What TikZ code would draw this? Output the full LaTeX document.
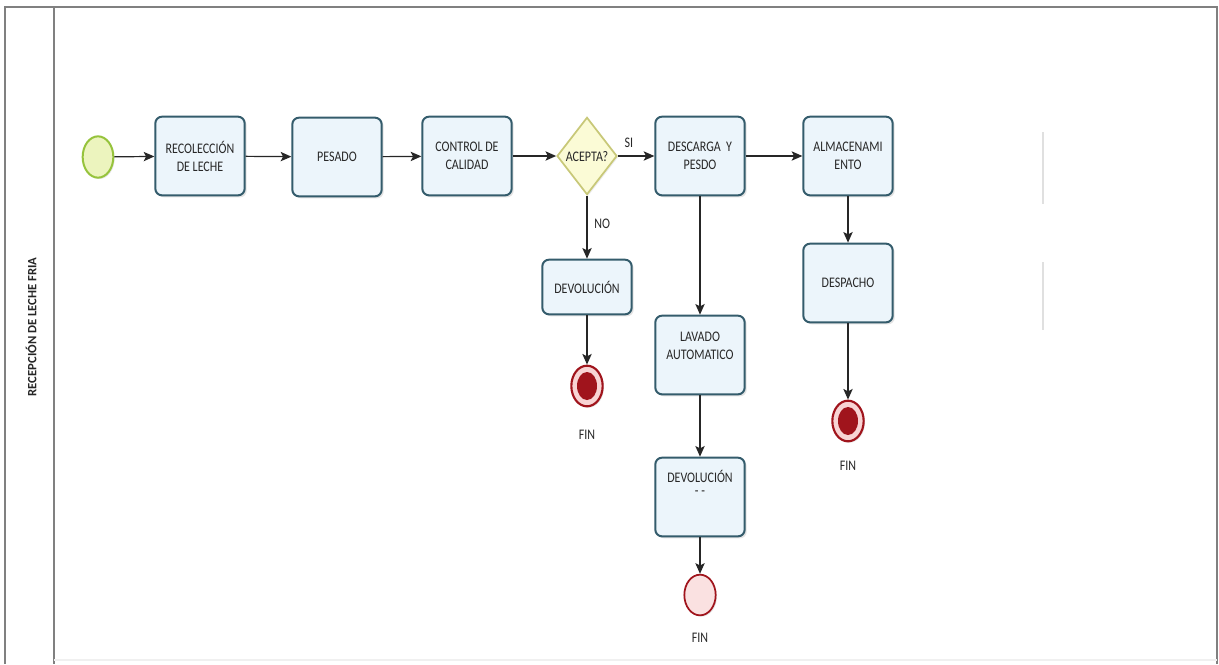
\documentclass[tikz,border=0pt]{standalone}
\usepackage{fontspec}
\setmainfont{Carlito}
\usetikzlibrary{shapes.geometric,arrows.meta,shadows}
\definecolor{boxborder}{RGB}{52,92,108}
\definecolor{boxfill}{RGB}{236,245,251}
\definecolor{txt}{RGB}{40,40,40}
\definecolor{dfill}{RGB}{251,251,214}
\definecolor{dborder}{RGB}{200,200,120}
\definecolor{sfill}{RGB}{236,244,190}
\definecolor{sborder}{RGB}{150,195,60}
\definecolor{ered}{RGB}{160,20,28}
\definecolor{epink}{RGB}{248,212,212}
\definecolor{framec}{RGB}{128,128,128}
\newcommand{\st}[1]{\scalebox{1}[1.22]{#1}}
\tikzset{
  task/.style={draw=boxborder, line width=1.5pt, fill=boxfill, rounded corners=5pt,
    minimum width=67pt, minimum height=59pt, inner sep=1pt, align=center,
    font=\fontsize{9}{13.5}\selectfont, text=txt,
    drop shadow={opacity=0.22, shadow xshift=1.5pt, shadow yshift=-1.5pt}},
  tasktext/.style={align=center, font=\fontsize{9}{13.5}\selectfont, text=txt, inner sep=0pt},
  gate/.style={diamond, draw=dborder, line width=1.3pt, fill=dfill, minimum width=45pt,
    minimum height=58pt, inner sep=0pt, drop shadow={opacity=0.15, shadow xshift=1pt, shadow yshift=-1pt}},
  startev/.style={ellipse, draw=sborder, line width=1.5pt, fill=sfill, minimum width=23pt,
    minimum height=31pt, inner sep=0pt, drop shadow={opacity=0.2, shadow xshift=1pt, shadow yshift=-1pt}},
  endev/.style={ellipse, draw=ered, line width=1.6pt, fill=epink, minimum width=23.5pt,
    minimum height=30.5pt, inner sep=0pt, drop shadow={opacity=0.2, shadow xshift=1pt, shadow yshift=-1pt}},
  endcore/.style={ellipse, fill=ered, minimum width=15pt, minimum height=21pt, inner sep=0pt},
  lbl/.style={font=\fontsize{9}{11}\selectfont, text=txt, inner sep=0pt},
  flow/.style={draw=black!85, line width=0.9pt, -{Stealth[length=8pt,width=7pt,inset=1.8pt]}}
}
\begin{document}
\begin{tikzpicture}[x=0.75pt,y=-0.75pt]
\useasboundingbox (0,0) rectangle (1219,664);
\fill[white] (0,0) rectangle (1219,664);
% frame
\draw[framec, line width=1.5pt] (5,664) -- (5,7) -- (1217,7) -- (1217,664);
\draw[framec, line width=1.5pt] (54,7) -- (54,664);
\draw[black!6, line width=1pt] (54,660) -- (1217,660);
\node[rotate=90, font=\bfseries\fontsize{9.5}{11}\selectfont, text=black!85] (lane) at (31,327) {RECEPCIÓN DE LECHE FRIA};
% faint marks
\draw[black!12, line width=1.8pt] (1043,132) -- (1043,204);
\draw[black!12, line width=1.8pt] (1043,262) -- (1043,330);
% nodes
\node[startev] (start) at (98,157) {};
\node[task] (rec) at (200,156) {\st{RECOLECCIÓN}\\\st{DE LECHE}};
\node[task] (pes) at (337,157) {\st{PESADO}};
\node[task] (ctl) at (467,156) {\st{CONTROL DE}\\\st{CALIDAD}};
\node[gate] (gw) at (587,156) {};
\node[tasktext] (gwt) at (587,157) {\st{ACEPTA?}};
\node[task] (des) at (700,156) {\st{DESCARGA\ \ Y}\\\st{PESDO}};
\node[task] (alm) at (848,156) {\st{ALMACENAMI}\\\st{ENTO}};
\node[task, minimum height=41pt] (dev) at (587,287) {\st{DEVOLUCIÓN}};
\node[task] (desp) at (848,283) {\st{DESPACHO}};
\node[task] (lav) at (700,355) {};
\node[tasktext] (lavt) at (700,346) {\st{LAVADO}\\\st{AUTOMATICO}};
\node[task] (dev2) at (700,497) {};
\node[tasktext] (dev2t) at (700,483) {\st{DEVOLUCIÓN}\\[-3.5pt]\st{- -}};
\node[endev] (end1) at (587,386) {};
\node[endcore] (end1c) at (587,386) {};
\node[endev] (end2) at (848,421) {};
\node[endcore] (end2c) at (848,421) {};
\node[endev, line width=1.3pt, fill=epink!70] (end3) at (700,595) {};
\node[lbl] (fin1) at (587,435) {\st{FIN}};
\node[lbl] (fin2) at (848,466) {\st{FIN}};
\node[lbl] (fin3) at (700,638) {\st{FIN}};
% flows
\draw[flow] (start) -- (rec);
\draw[flow] (rec) -- (pes);
\draw[flow] (pes) -- (ctl);
\draw[flow] (ctl) -- (gw);
\draw[flow] (gw) -- node[lbl, pos=0.3, above=6pt] (si) {\st{SI}} (des);
\draw[flow] (des) -- (alm);
\draw[flow] (gw) -- node[lbl, pos=0.45, right=5pt] (no) {\st{NO}} (dev);
\draw[flow] (dev) -- (end1);
\draw[flow] (des) -- (lav);
\draw[flow] (lav) -- (dev2);
\draw[flow] (dev2) -- (end3);
\draw[flow] (alm) -- (desp);
\draw[flow] (desp) -- (end2);
\end{tikzpicture}
\end{document}
